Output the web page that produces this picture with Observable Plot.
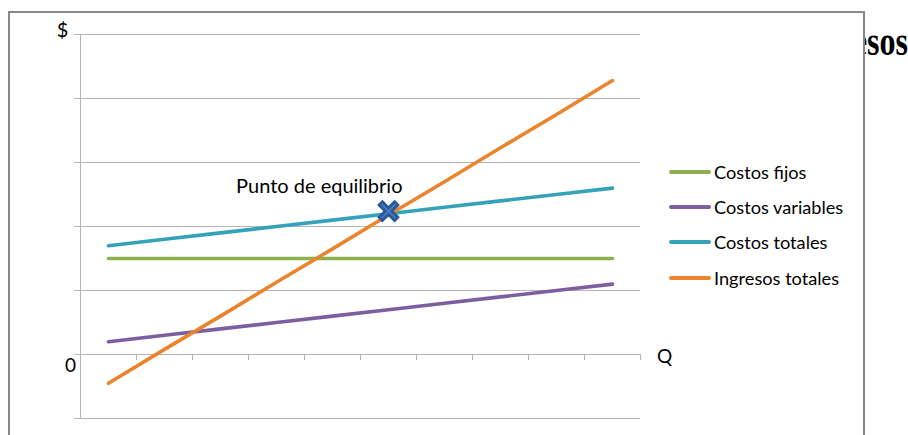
<!DOCTYPE html>
<html><head><meta charset="utf-8">
<script src="https://cdn.jsdelivr.net/npm/d3@7"></script>
<script src="https://cdn.jsdelivr.net/npm/@observablehq/plot@0.6"></script>
<style>
html,body{margin:0;padding:0;background:#fff;}
#wrap{position:relative;width:908px;height:435px;overflow:hidden;font-family:Lato,"Open Sans",sans-serif;}
#fondo{position:absolute;right:0px;top:28px;font:bold 32px/1 "Liberation Serif","Times New Roman",serif;color:#000;white-space:nowrap;z-index:0;transform:scaleY(1.28);transform-origin:50% 27px;}
#frame{position:absolute;left:8px;top:11px;width:853px;height:450px;border:2px solid #888;background:#fff;z-index:1;}
#chart{position:absolute;left:0;top:0;z-index:2;}
#legend{position:absolute;left:669px;top:154px;z-index:3;}
#legend .row{display:flex;align-items:center;height:35.3px;font-size:18.2px;color:#000;}
#legend .sw{width:42px;height:4px;margin-right:3px;border-radius:2px;}
</style>
</head><body>
<div id="wrap">
  <div id="fondo">Ingresos</div>
  <div id="frame"></div>
  <div id="chart"></div>
  <div id="legend"></div>
</div>
<script>
// ---- Data ----
const cantidades = [1, 2, 3, 4, 5, 6, 7, 8, 9, 10];
const nombresSeries = ["Costos fijos", "Costos variables", "Costos totales", "Ingresos totales"];
const costosFijos = [1.5, 1.5, 1.5, 1.5, 1.5, 1.5, 1.5, 1.5, 1.5, 1.5];
const costosVariables = [0.2, 0.3, 0.4, 0.5, 0.6, 0.7, 0.8, 0.9, 1.0, 1.1];
const costosTotales = [1.7, 1.8, 1.9, 2.0, 2.1, 2.2, 2.3, 2.4, 2.5, 2.6];
const ingresosTotales = [-0.45, 0.08, 0.6, 1.13, 1.65, 2.18, 2.7, 3.23, 3.75, 4.28];
const puntoEquilibrioQ = [6];
const puntoEquilibrioValor = [2.24];
const etiquetaEquilibrio = ["Punto de equilibrio"];
const ticksY = [-1, 0, 1, 2, 3, 4, 5];
const ticksX = [0, 1, 2, 3, 4, 5, 6, 7, 8, 9, 10];
const etiquetaYSuperior = ["$"];
const etiquetaOrigen = ["0"];
const etiquetaX = ["Q"];

// ---- Styles ----
const colores = ["#8DB04E", "#7D5EA0", "#35A2BA", "#E9842F"];
const gris = "#b4b4b4";

const valoresSeries = [costosFijos, costosVariables, costosTotales, ingresosTotales];
const filas = nombresSeries.flatMap((s, k) => cantidades.map((q, i) => ({serie: s, x: q - 0.5, valor: valoresSeries[k][i]})));
const equilibrio = puntoEquilibrioQ.map((q, i) => ({x: q - 0.5, valor: puntoEquilibrioValor[i], texto: etiquetaEquilibrio[i]}));

const chart = Plot.plot({
  width: 908, height: 435,
  marginLeft: 80, marginRight: 268, marginTop: 34, marginBottom: 17,
  style: {background: "transparent", overflow: "visible", fontFamily: "Lato, 'Open Sans', sans-serif", fontSize: "19px", color: "#000"},
  x: {domain: [0, 10], axis: null},
  y: {domain: [-1, 5], axis: null},
  color: {domain: nombresSeries, range: colores},
  marks: [
    Plot.ruleY(ticksY, {y: d => d, x1: 0, x2: 10, insetLeft: -6, stroke: gris, strokeWidth: 1}),
    Plot.ruleX([0], {x: d => d, y1: -1, y2: 5, stroke: gris, strokeWidth: 1}),
    Plot.ruleX(ticksX, {x: d => d, y1: 0, y2: 0, insetBottom: -6, stroke: gris, strokeWidth: 1}),
    Plot.line(filas, {x: "x", y: "valor", z: "serie", stroke: "serie", strokeWidth: 3.6, strokeLinecap: "round"}),
    Plot.dot(equilibrio, {x: "x", y: "valor", symbol: "times", r: 8, stroke: "#2B5898", strokeWidth: 7.5}),
    Plot.dot(equilibrio, {x: "x", y: "valor", symbol: "times", r: 6.5, stroke: "#4F80C0", strokeWidth: 1.5}),
    Plot.text(equilibrio, {x: "x", y: "valor", text: "texto", textAnchor: "end", dx: 14, dy: -25, fontSize: 20, fill: "#000"}),
    Plot.text(etiquetaYSuperior, {x: 0, y: 5, text: d => d, dx: -18, dy: -4, fontSize: 20, fill: "#000"}),
    Plot.text(etiquetaOrigen, {x: 0, y: 0, text: d => d, dx: -10, dy: 11, fontSize: 19, fill: "#000"}),
    Plot.text(etiquetaX, {x: 10, y: 0, text: d => d, dx: 24, dy: 2, fontSize: 19, fill: "#000"}),
  ]
});
document.getElementById("chart").appendChild(chart);

const legend = document.getElementById("legend");
nombresSeries.forEach((s, k) => {
  const row = document.createElement("div");
  row.className = "row";
  row.innerHTML = `<span class="sw" style="background:${colores[k]}"></span><span>${s}</span>`;
  legend.appendChild(row);
});
</script>
</body></html>
